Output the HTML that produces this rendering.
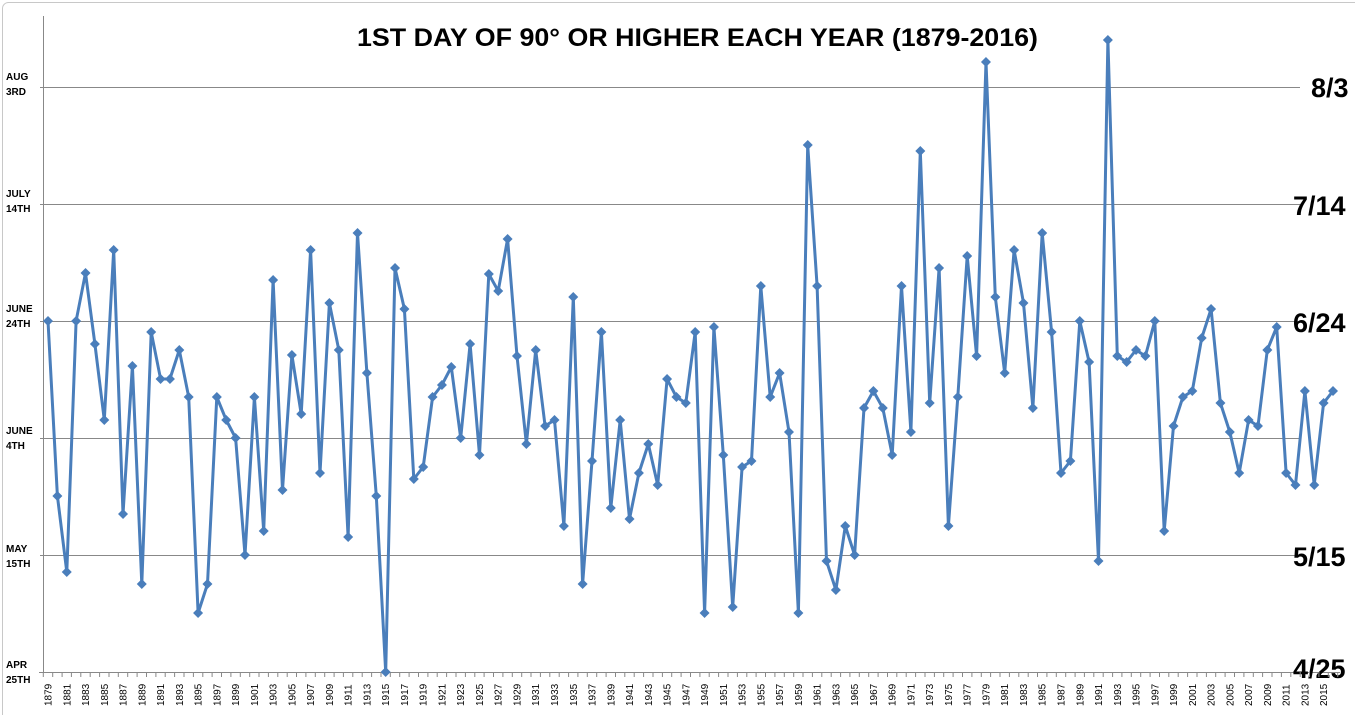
<!DOCTYPE html>
<html><head><meta charset="utf-8"><style>
body{margin:0;background:#fff;}
svg{display:block;font-family:"Liberation Sans",sans-serif;}
</style></head><body>
<svg id="s" width="1355" height="715" viewBox="0 0 1355 715">
<rect x="0" y="0" width="1355" height="715" fill="#fff"/>
<rect x="2.5" y="2.5" width="1360" height="720" rx="6" fill="none" stroke="#c8c8c8"/>
<text x="357" y="46" font-size="25" font-weight="bold" textLength="681" lengthAdjust="spacingAndGlyphs" font-family="Liberation Sans, sans-serif">1ST DAY OF 90° OR HIGHER EACH YEAR (1879-2016)</text>
<g stroke="#888" stroke-width="1">
<line x1="40" y1="87.5" x2="1300" y2="87.5"/>
<line x1="40" y1="204.5" x2="1300" y2="204.5"/>
<line x1="40" y1="321.5" x2="1300" y2="321.5"/>
<line x1="40" y1="438.5" x2="1300" y2="438.5"/>
<line x1="40" y1="555.5" x2="1300" y2="555.5"/>
<line x1="43.5" y1="16" x2="43.5" y2="672"/>
<line x1="39" y1="672.5" x2="1340" y2="672.5"/>
</g>
<g font-size="10" font-weight="bold" fill="#000">
<text x="6" y="80">AUG</text><text x="6" y="95">3RD</text>
<text x="6" y="197">JULY</text><text x="6" y="212">14TH</text>
<text x="6" y="312">JUNE</text><text x="6" y="327">24TH</text>
<text x="6" y="434">JUNE</text><text x="6" y="449">4TH</text>
<text x="6" y="552">MAY</text><text x="6" y="567">15TH</text>
<text x="6" y="668">APR</text><text x="6" y="683">25TH</text>
</g>
<g font-size="27" font-weight="bold" fill="#000">
<text x="1311" y="97">8/3</text>
<text x="1293" y="215">7/14</text>
<text x="1293" y="332">6/24</text>
<text x="1293" y="566">5/15</text>
<text x="1293" y="678">4/25</text>
</g>
<g id="ax"></g>
<g id="dat"></g>
</svg>
<script>
var ys=[321,496,572,321,273,344,420,250,514,366,584,332,379,379,350,397,613,584,397,420,438,555,397,531,280,490,355,414,250,473,303,350,537,233,373,496,672,268,309,479,467,397,385,367,438,344,455,274,291,239,356,444,350,426,420,526,297,584,461,332,508,420,519,473,444,485,379,397,403,332,613,327,455,607,467,461,286,397,373,432,613,145,286,561,590,526,555,408,391,408,455,286,432,151,403,268,526,397,256,356,62,297,373,250,303,408,233,332,473,461,321,362,561,40,356,362,350,356,321,531,426,397,391,338,309,403,432,473,420,426,350,327,473,485,391,485,403,391];
var dat=document.getElementById("dat"),ax=document.getElementById("ax");
var step=(1333-48)/137,pts=[],h="";
for(var i=0;i<ys.length;i++){var x=48+i*step;pts.push(x.toFixed(1)+","+ys[i]);}
var a="";
for(var i=0;i<=138;i++){var tx=(43.3+i*step).toFixed(1);a+='<line x1="'+tx+'" y1="672" x2="'+tx+'" y2="677" stroke="#888"/>';}
for(var i=0;i<138;i+=2){var x=48+i*step+3.5;a+='<text transform="translate('+x.toFixed(1)+',706) rotate(-90)" font-size="10">'+(1879+i)+'</text>';}
ax.innerHTML=a;
h='<polyline points="'+pts.join(" ")+'" fill="none" stroke="#4a7ebb" stroke-width="3" stroke-linejoin="round"/>';
for(var i=0;i<ys.length;i++){var x=48+i*step,y=ys[i];h+='<polygon points="'+x+','+(y-5)+' '+(x+5)+','+y+' '+x+','+(y+5)+' '+(x-5)+','+y+'" fill="#4a7ebb"/>';}
dat.innerHTML=h;
</script>
</body></html>
